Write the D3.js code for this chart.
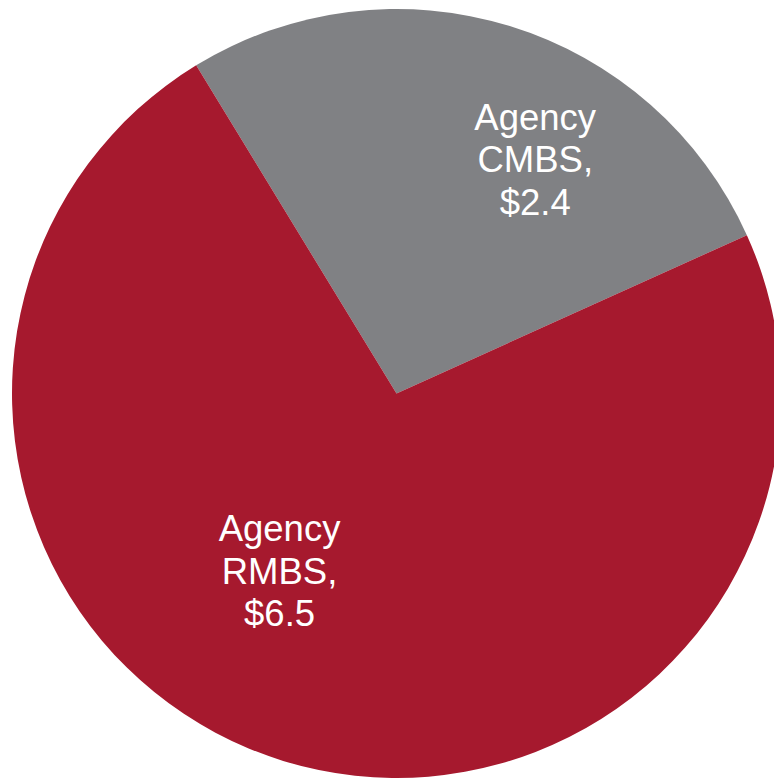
<!DOCTYPE html>
<html>
<head>
<meta charset="utf-8">
<script src="https://cdn.jsdelivr.net/npm/d3@7"></script>
<style>
  html, body { margin: 0; padding: 0; background: #ffffff; }
  svg { display: block; }
</style>
</head>
<body>
<svg id="chart" width="774" height="778"></svg>
<script>
// Data
const categories = ["Agency CMBS", "Agency RMBS"];
const values = [2.4, 6.5];
const labelLines = [["Agency", "CMBS,", "$2.4"], ["Agency", "RMBS,", "$6.5"]];
const colors = ["#808184", "#A6192E"];

const width = 774, height = 778;
const cx = 396.5, cy = 393.5, radius = 384.5;
const startDeg = -31.4;

const svg = d3.select("#chart");
const g = svg.append("g").attr("transform", `translate(${cx},${cy})`);

const pie = d3.pie().sort(null).value(d => d)
  .startAngle(startDeg * Math.PI / 180)
  .endAngle((startDeg + 360) * Math.PI / 180);
const arcs = pie(values);
const arc = d3.arc().innerRadius(0).outerRadius(radius);

g.selectAll("path.slice").data(arcs).enter().append("path")
  .attr("class", "slice")
  .attr("d", arc)
  .attr("fill", (d, i) => colors[i]);

// label placement (Excel-style best fit), expressed as angle shift and radial fraction
const labelAngleShift = [13.5, 16.3];
const labelRadiusFrac = [0.708, 0.552];
const fontSize = 36.5, lineH = 42.5;

arcs.forEach((d, i) => {
  const mid = (d.startAngle + d.endAngle) / 2 + labelAngleShift[i] * Math.PI / 180;
  const r = radius * labelRadiusFrac[i];
  const x = Math.sin(mid) * r;
  const y = -Math.cos(mid) * r;
  const t = g.append("text")
    .attr("text-anchor", "middle")
    .attr("font-family", "'Liberation Sans', Arial, sans-serif")
    .attr("font-size", fontSize)
    .attr("fill", "#ffffff");
  labelLines[i].forEach((ln, j) => {
    t.append("tspan")
      .attr("x", x)
      .attr("y", y + (j - 1) * lineH + fontSize * 0.36)
      .text(ln);
  });
});
</script>
</body>
</html>
